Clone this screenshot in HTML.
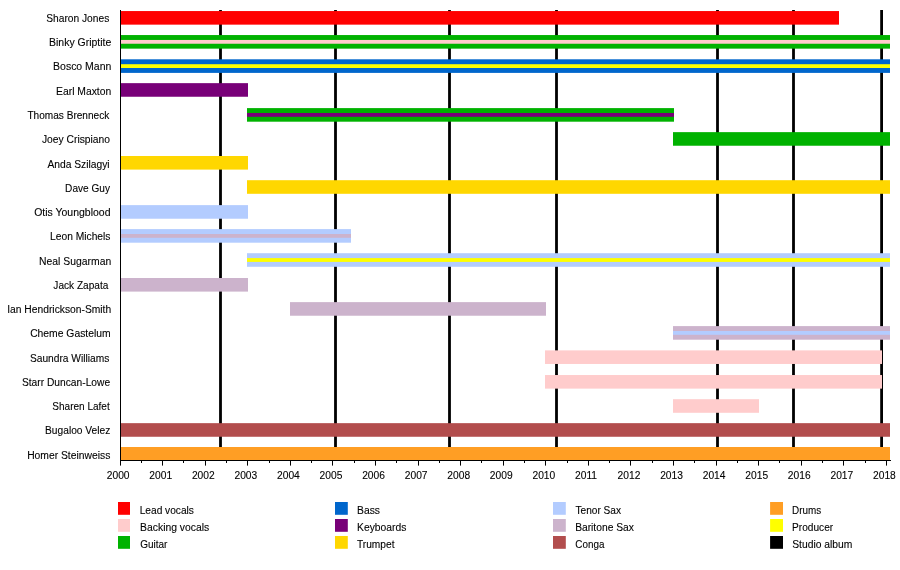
<!DOCTYPE html>
<html><head><meta charset="utf-8"><title>Timeline</title>
<style>
html,body{margin:0;padding:0;background:#fff;}
body{width:900px;height:570px;overflow:hidden;}
svg{display:block;}
#tx{opacity:0.999;}
text{font-family:"Liberation Sans",sans-serif;font-size:11px;fill:#000;stroke:#000;stroke-width:0.12px;}
</style></head><body>
<svg width="900" height="570" viewBox="0 0 900 570">
<rect x="0" y="0" width="900" height="570" fill="#ffffff"/>
<rect x="219.10" y="10" width="2.8" height="450" fill="#000"/>
<rect x="334.10" y="10" width="2.8" height="450" fill="#000"/>
<rect x="448.10" y="10" width="2.8" height="450" fill="#000"/>
<rect x="555.10" y="10" width="2.8" height="450" fill="#000"/>
<rect x="716.10" y="10" width="2.8" height="450" fill="#000"/>
<rect x="792.10" y="10" width="2.8" height="450" fill="#000"/>
<rect x="880.20" y="10" width="2.8" height="450" fill="#000"/>
<rect x="120" y="11.05" width="719" height="13.6" fill="#ff0000"/>
<rect x="120" y="35.05" width="770.0" height="13.6" fill="#00b200"/>
<rect x="120" y="39.95" width="770.0" height="3.8" fill="#ffcccc"/>
<rect x="120" y="59.30" width="770.0" height="13.6" fill="#0066cc"/>
<rect x="120" y="64.20" width="770.0" height="3.8" fill="#ffff00"/>
<rect x="120" y="83.15" width="128" height="13.6" fill="#780078"/>
<rect x="247" y="108.10" width="427" height="13.6" fill="#00b200"/>
<rect x="247" y="113.00" width="427" height="3.8" fill="#780078"/>
<rect x="673" y="132.14" width="217.0" height="13.6" fill="#00b200"/>
<rect x="120" y="156.00" width="128" height="13.6" fill="#ffd700"/>
<rect x="247" y="180.20" width="643.0" height="13.6" fill="#ffd700"/>
<rect x="120" y="205.13" width="128" height="13.6" fill="#b3ccff"/>
<rect x="120" y="229.10" width="231" height="13.6" fill="#b3ccff"/>
<rect x="120" y="234.00" width="231" height="3.8" fill="#ccb3cc"/>
<rect x="247" y="253.20" width="643.0" height="13.6" fill="#b3ccff"/>
<rect x="247" y="258.10" width="643.0" height="3.8" fill="#ffff00"/>
<rect x="120" y="278.00" width="128" height="13.6" fill="#ccb3cc"/>
<rect x="290" y="302.13" width="256" height="13.6" fill="#ccb3cc"/>
<rect x="673" y="326.10" width="217.0" height="13.6" fill="#ccb3cc"/>
<rect x="673" y="331.00" width="217.0" height="3.8" fill="#b3ccff"/>
<rect x="545" y="350.37" width="337" height="13.6" fill="#ffcccc"/>
<rect x="545" y="375.03" width="337" height="13.6" fill="#ffcccc"/>
<rect x="673" y="399.20" width="86" height="13.6" fill="#ffcccc"/>
<rect x="120" y="423.16" width="770.0" height="13.6" fill="#b24d4d"/>
<rect x="120" y="447.00" width="770.0" height="13.6" fill="#ff9e24"/>
<rect x="120" y="10" width="1" height="451" fill="#000"/>
<rect x="120" y="460" width="771" height="1" fill="#000"/>
<rect x="120" y="460" width="1" height="5.6" fill="#000"/>
<rect x="141" y="460" width="1" height="3" fill="#000"/>
<rect x="162" y="460" width="1" height="5.6" fill="#000"/>
<rect x="183" y="460" width="1" height="3" fill="#000"/>
<rect x="205" y="460" width="1" height="5.6" fill="#000"/>
<rect x="226" y="460" width="1" height="3" fill="#000"/>
<rect x="247" y="460" width="1" height="5.6" fill="#000"/>
<rect x="269" y="460" width="1" height="3" fill="#000"/>
<rect x="290" y="460" width="1" height="5.6" fill="#000"/>
<rect x="311" y="460" width="1" height="3" fill="#000"/>
<rect x="332" y="460" width="1" height="5.6" fill="#000"/>
<rect x="354" y="460" width="1" height="3" fill="#000"/>
<rect x="375" y="460" width="1" height="5.6" fill="#000"/>
<rect x="396" y="460" width="1" height="3" fill="#000"/>
<rect x="418" y="460" width="1" height="5.6" fill="#000"/>
<rect x="439" y="460" width="1" height="3" fill="#000"/>
<rect x="460" y="460" width="1" height="5.6" fill="#000"/>
<rect x="481" y="460" width="1" height="3" fill="#000"/>
<rect x="503" y="460" width="1" height="5.6" fill="#000"/>
<rect x="524" y="460" width="1" height="3" fill="#000"/>
<rect x="545" y="460" width="1" height="5.6" fill="#000"/>
<rect x="567" y="460" width="1" height="3" fill="#000"/>
<rect x="588" y="460" width="1" height="5.6" fill="#000"/>
<rect x="609" y="460" width="1" height="3" fill="#000"/>
<rect x="630" y="460" width="1" height="5.6" fill="#000"/>
<rect x="652" y="460" width="1" height="3" fill="#000"/>
<rect x="673" y="460" width="1" height="5.6" fill="#000"/>
<rect x="694" y="460" width="1" height="3" fill="#000"/>
<rect x="716" y="460" width="1" height="5.6" fill="#000"/>
<rect x="737" y="460" width="1" height="3" fill="#000"/>
<rect x="758" y="460" width="1" height="5.6" fill="#000"/>
<rect x="779" y="460" width="1" height="3" fill="#000"/>
<rect x="801" y="460" width="1" height="5.6" fill="#000"/>
<rect x="822" y="460" width="1" height="3" fill="#000"/>
<rect x="843" y="460" width="1" height="5.6" fill="#000"/>
<rect x="865" y="460" width="1" height="3" fill="#000"/>
<rect x="886" y="460" width="1" height="5.6" fill="#000"/>
<rect x="118.00" y="502" width="12.0" height="12.8" fill="#ff0000"/>
<rect x="118.00" y="519" width="12.0" height="12.8" fill="#ffcccc"/>
<rect x="118.00" y="536" width="12.0" height="12.8" fill="#00b200"/>
<rect x="335.00" y="502" width="12.8" height="12.8" fill="#0066cc"/>
<rect x="335.00" y="519" width="12.8" height="12.8" fill="#780078"/>
<rect x="335.00" y="536" width="12.8" height="12.8" fill="#ffd700"/>
<rect x="553.00" y="502" width="12.8" height="12.8" fill="#b3ccff"/>
<rect x="553.00" y="519" width="12.8" height="12.8" fill="#ccb3cc"/>
<rect x="553.00" y="536" width="12.8" height="12.8" fill="#b24d4d"/>
<rect x="770.10" y="502" width="12.9" height="12.8" fill="#ff9e24"/>
<rect x="770.10" y="519" width="12.9" height="12.8" fill="#ffff00"/>
<rect x="770.10" y="536" width="12.9" height="12.8" fill="#000"/>
<g id="tx">
<text transform="translate(46.19,22.00) scale(0.9310,1)">Sharon Jones</text>
<text transform="translate(49.02,46.00) scale(0.9533,1)">Binky Griptite</text>
<text transform="translate(53.07,70.00) scale(0.9540,1)">Bosco Mann</text>
<text transform="translate(56.03,95.00) scale(0.9413,1)">Earl Maxton</text>
<text transform="translate(27.45,119.00) scale(0.9170,1)">Thomas Brenneck</text>
<text transform="translate(41.95,143.00) scale(0.9366,1)">Joey Crispiano</text>
<text transform="translate(47.45,168.00) scale(0.9342,1)">Anda Szilagyi</text>
<text transform="translate(65.10,192.00) scale(0.9168,1)">Dave Guy</text>
<text transform="translate(34.19,216.00) scale(0.9525,1)">Otis Youngblood</text>
<text transform="translate(50.04,240.00) scale(0.9331,1)">Leon Michels</text>
<text transform="translate(39.08,265.00) scale(0.9440,1)">Neal Sugarman</text>
<text transform="translate(53.35,289.00) scale(0.9186,1)">Jack Zapata</text>
<text transform="translate(7.19,313.00) scale(0.9357,1)">Ian Hendrickson-Smith</text>
<text transform="translate(30.14,337.00) scale(0.9410,1)">Cheme Gastelum</text>
<text transform="translate(29.90,362.00) scale(0.9291,1)">Saundra Williams</text>
<text transform="translate(21.90,386.00) scale(0.9322,1)">Starr Duncan-Lowe</text>
<text transform="translate(52.31,410.00) scale(0.9116,1)">Sharen Lafet</text>
<text transform="translate(45.04,434.00) scale(0.9293,1)">Bugaloo Velez</text>
<text transform="translate(27.13,459.00) scale(0.9404,1)">Homer Steinweiss</text>
<text transform="translate(139.69,513.70) scale(0.9255,1)">Lead vocals</text>
<text transform="translate(140.08,530.70) scale(0.9435,1)">Backing vocals</text>
<text transform="translate(140.21,547.70) scale(0.9101,1)">Guitar</text>
<text transform="translate(357.08,513.70) scale(0.9393,1)">Bass</text>
<text transform="translate(357.09,530.70) scale(0.9376,1)">Keyboards</text>
<text transform="translate(357.00,547.70) scale(0.9258,1)">Trumpet</text>
<text transform="translate(575.45,513.70) scale(0.9209,1)">Tenor Sax</text>
<text transform="translate(575.14,530.70) scale(0.9334,1)">Baritone Sax</text>
<text transform="translate(575.36,547.70) scale(0.8984,1)">Conga</text>
<text transform="translate(792.12,513.70) scale(0.8995,1)">Drums</text>
<text transform="translate(792.10,530.70) scale(0.9209,1)">Producer</text>
<text transform="translate(792.19,547.70) scale(0.9373,1)">Studio album</text>
<text transform="translate(106.74,478.90) scale(0.9328,1)">2000</text>
<text transform="translate(149.31,478.90) scale(0.9328,1)">2001</text>
<text transform="translate(191.88,478.90) scale(0.9328,1)">2002</text>
<text transform="translate(234.45,478.90) scale(0.9328,1)">2003</text>
<text transform="translate(277.02,478.90) scale(0.9328,1)">2004</text>
<text transform="translate(319.59,478.90) scale(0.9328,1)">2005</text>
<text transform="translate(362.16,478.90) scale(0.9328,1)">2006</text>
<text transform="translate(404.73,478.90) scale(0.9328,1)">2007</text>
<text transform="translate(447.30,478.90) scale(0.9328,1)">2008</text>
<text transform="translate(489.87,478.90) scale(0.9328,1)">2009</text>
<text transform="translate(532.44,478.90) scale(0.9328,1)">2010</text>
<text transform="translate(575.01,478.90) scale(0.9328,1)">2011</text>
<text transform="translate(617.58,478.90) scale(0.9328,1)">2012</text>
<text transform="translate(660.15,478.90) scale(0.9328,1)">2013</text>
<text transform="translate(702.72,478.90) scale(0.9328,1)">2014</text>
<text transform="translate(745.29,478.90) scale(0.9328,1)">2015</text>
<text transform="translate(787.86,478.90) scale(0.9328,1)">2016</text>
<text transform="translate(830.43,478.90) scale(0.9328,1)">2017</text>
<text transform="translate(873.00,478.90) scale(0.9328,1)">2018</text>
</g>
</svg>
</body></html>
